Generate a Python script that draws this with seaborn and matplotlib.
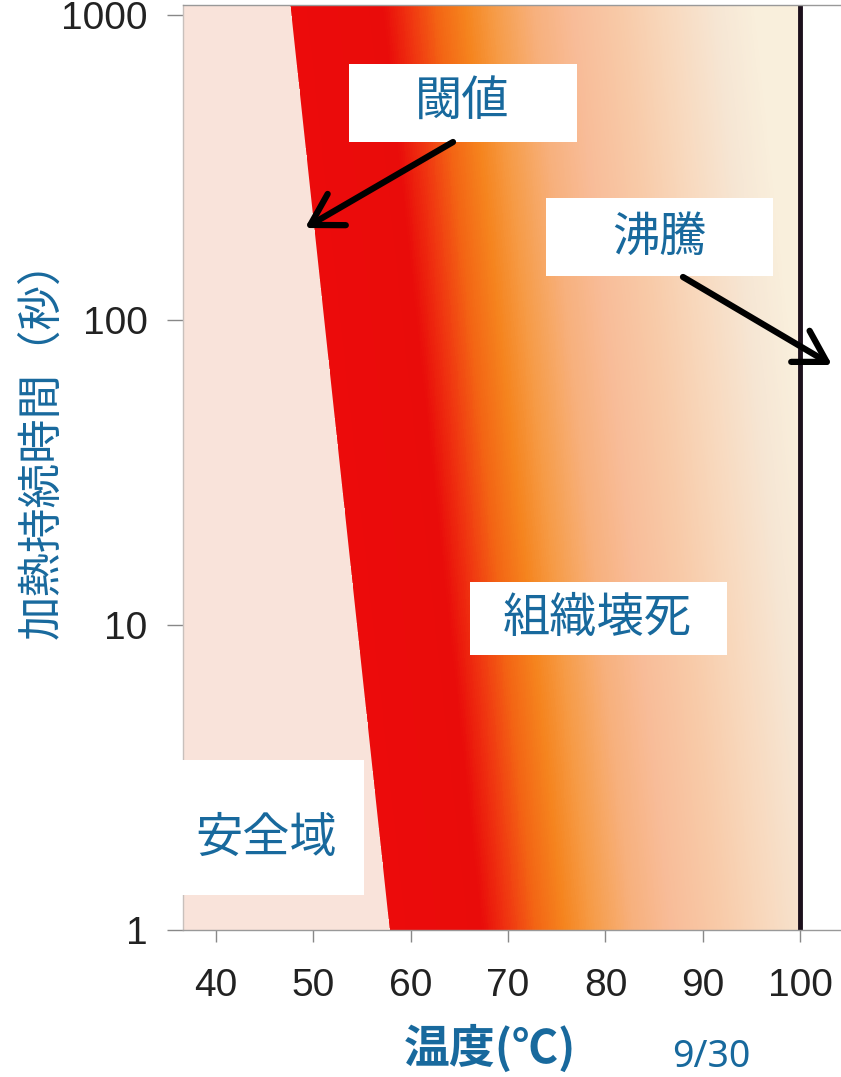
import numpy as np
import seaborn as sns
import matplotlib
matplotlib.use("Agg")
import matplotlib.pyplot as plt
from matplotlib.colors import LinearSegmentedColormap, Normalize
from matplotlib.patches import Rectangle, FancyArrowPatch
from matplotlib.ticker import NullLocator

# ---------------- data ----------------
temp_ticks = [40, 50, 60, 70, 80, 90, 100]
time_ticks = [1, 10, 100, 1000]
time_tick_labels = ["1", "10", "100", "1000"]

# necrosis threshold: onset temperature (°C) for a given heating time (s)
threshold_time = [1, 1000]
threshold_temp = [57.8, 47.7]

boiling_temp = 100

# colour of the necrosis zone vs. degrees above the threshold
ramp_offset = [0, 9.5, 12, 15, 18, 21, 25, 29, 34, 39, 44, 48]
ramp_color = ["#ec0b0b", "#e90c0a", "#ef3210", "#f36414", "#f5841e", "#f69c48",
              "#f7b07c", "#f8bc98", "#f8caa8", "#f8d9be", "#f6e6d4", "#f9efdc"]
safe_color = "#f9e3da"

region_labels = ["閾値", "沸騰", "組織壊死", "安全域"]

# ---------------- style ----------------
sns.set_theme(style="ticks")
plt.rcParams["font.family"] = ["Noto Sans CJK JP", "DejaVu Sans"]
blue = "#18699d"

W, H, DPI = 841, 1077, 100
fig = plt.figure(figsize=(W / DPI, H / DPI), dpi=DPI)
fig.patch.set_facecolor("white")

ax = fig.add_axes([183 / W, (H - 930) / H, (W - 183) / W, (930 - 5) / H])
ax.set_facecolor("white")

x_min, x_max = 36.6, 104.2
t_min, t_max = 1, 1078
ax.set_yscale("log")


def threshold_at(log_t):
    l0, l1 = np.log10(threshold_time)
    t0, t1 = threshold_temp
    return t0 + (np.asarray(log_t) - l0) * (t1 - t0) / (l1 - l0)


# necrosis gradient: colour follows how far the temperature is above the threshold
T_edges = np.linspace(x_min, boiling_temp, 700)
L_edges = np.linspace(0, np.log10(t_max), 420)
T_c = 0.5 * (T_edges[:-1] + T_edges[1:])
L_c = 0.5 * (L_edges[:-1] + L_edges[1:])
D = T_c[None, :] - threshold_at(L_c)[:, None]

dmax = ramp_offset[-1]
cmap = LinearSegmentedColormap.from_list(
    "necrosis", [(o / dmax, c) for o, c in zip(ramp_offset, ramp_color)])
cmap.set_under(safe_color)
ax.pcolormesh(T_edges, 10 ** L_edges, D, cmap=cmap, norm=Normalize(0, dmax),
              shading="flat", rasterized=True, zorder=1)

# safe zone below the threshold (straight edge in temperature vs log time)
edge_t = np.array([t_min, t_max], dtype=float)
ax.fill_betweenx(edge_t, x_min, threshold_at(np.log10(edge_t)),
                 color=safe_color, lw=0, zorder=2)

# boiling point
sns.lineplot(x=[boiling_temp, boiling_temp], y=[t_min, t_max], orient="y",
             estimator=None, sort=False, color="#1c101c", lw=3.5, ax=ax, zorder=3)

ax.set_xlim(x_min, x_max)
ax.set_ylim(t_min, t_max)
ax.set_xlabel("")
ax.set_ylabel("")

ax.set_xticks(temp_ticks)
ax.set_xticklabels([str(v) for v in temp_ticks])
ax.set_yticks(time_ticks)
ax.set_yticklabels(time_tick_labels)
ax.yaxis.set_minor_locator(NullLocator())
ax.tick_params(axis="x", length=8.6, width=1, color="#888888", pad=19,
               labelsize=28, labelcolor="#222222")
ax.tick_params(axis="y", length=11.5, width=1, color="#888888", pad=14,
               labelsize=28, labelcolor="#222222")
for lbl in ax.get_xticklabels() + ax.get_yticklabels():
    lbl.set_fontfamily("Liberation Sans")

for side in ["top", "bottom"]:
    ax.spines[side].set_color("#999999")
    ax.spines[side].set_linewidth(1)
    ax.spines[side].set_zorder(4)
ax.spines["left"].set_color("#c8c0bc")
ax.spines["left"].set_linewidth(1)
ax.spines["right"].set_visible(False)


# ---------------- annotations (figure pixels, origin top-left) ----------------
def fx(x):
    return x / W


def fy(y):
    return 1 - y / H


label_boxes = [(349, 64, 577, 142), (546, 198, 773, 276),
               (470, 582, 727, 655), (165, 760, 364, 895)]
label_pos = [(462, 103), (659, 238), (597, 619), (266, 839)]

for (x0, y0, x1, y1), (tx, ty), s in zip(label_boxes, label_pos, region_labels):
    fig.add_artist(Rectangle((fx(x0), fy(y1)), (x1 - x0) / W, (y1 - y0) / H,
                             transform=fig.transFigure, facecolor="white",
                             edgecolor="none", zorder=5))
    fig.text(fx(tx), fy(ty), s, ha="center", va="center", fontsize=34,
             color=blue, zorder=6)

arrows = [((453, 142), (305, 228)), ((683, 277), (832, 365))]
for (xa, ya), (xb, yb) in arrows:
    fig.add_artist(FancyArrowPatch((fx(xa), fy(ya)), (fx(xb), fy(yb)),
                                   transform=fig.transFigure,
                                   arrowstyle="->,head_length=0.44,head_width=0.26",
                                   mutation_scale=50, lw=4.5, color="black",
                                   shrinkA=0, shrinkB=0, zorder=7))

fig.text(fx(41), fy(439), "加熱持続時間（秒）", rotation=90, ha="center",
         va="center", fontsize=32, color=blue)
fig.text(fx(490), fy(1049), "温度(℃)", ha="center", va="center",
         fontsize=33, fontweight="bold", color=blue)
fig.text(fx(711), fy(1057), "9/30", ha="center", va="center",
         fontsize=27, color=blue, family=["Noto Sans", "DejaVu Sans"])

fig.savefig("out.png", dpi=DPI, facecolor="white")
